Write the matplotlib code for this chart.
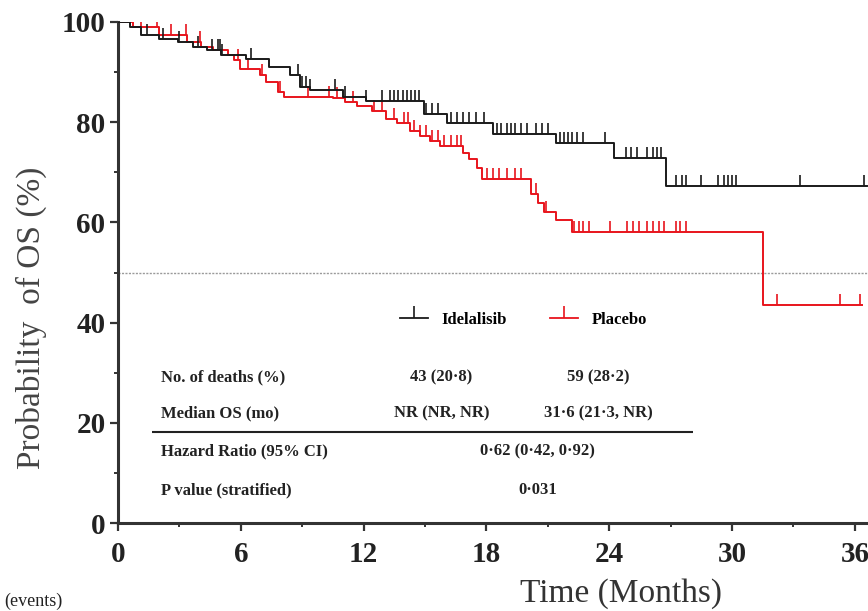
import numpy as np
import matplotlib
matplotlib.use('Agg')
import matplotlib.pyplot as plt
from matplotlib.lines import Line2D

plt.rcParams['font.family'] = ['Liberation Serif', 'DejaVu Serif']

# Kaplan-Meier curves: step times (months) and survival (%) after each step
ide_t = [0, 0.6, 1.1, 2.0, 2.95, 3.65, 4.35, 5.05, 6.25, 7.4, 8.4, 8.9, 9.4, 11.0, 12.1,
         14.95, 16.05, 18.3, 21.4, 24.25, 26.75, 36.6]
ide_s = [100, 99.0, 97.4, 96.6, 96.0, 95.0, 94.4, 93.5, 92.6, 91.1, 89.5, 87.1, 86.5, 85.1, 84.2,
         81.6, 79.8, 77.6, 75.8, 72.9, 67.3, 67.3]
pla_t = [0, 0.75, 2.0, 3.35, 4.05, 4.65, 5.35, 5.65, 5.95, 6.95, 7.25, 7.8, 8.1, 10.5, 11.1, 11.7,
         12.4, 13.1, 13.65, 14.25, 14.75, 15.25, 15.75, 16.85, 17.15, 17.55, 17.8, 20.2, 20.5, 20.8,
         21.4, 22.2, 31.5, 36.35]
pla_s = [100, 99.0, 97.4, 96.0, 95.0, 94.4, 93.4, 92.4, 90.7, 89.5, 88.1, 86.1, 85.1, 84.8, 84.0, 83.2,
         82.2, 80.6, 79.8, 78.2, 77.2, 76.2, 75.2, 73.9, 72.7, 70.9, 68.7, 65.7, 63.8, 62.0,
         60.4, 58.0, 43.6, 43.6]

# censored observations (months)
ide_cens = [1.4, 2.2, 3.0, 3.9, 4.6, 4.9, 5.0, 5.1, 6.5, 8.8, 9.0, 9.2, 9.4, 10.6, 11.1, 12.1,
            12.9, 13.3, 13.5, 13.7, 13.9, 14.1, 14.3, 14.5, 14.7, 15.05, 15.35, 15.65, 16.25, 16.55,
            16.85, 17.15, 17.5, 17.9, 18.5, 18.7, 19.0, 19.2, 19.4, 19.7, 20.0, 20.4, 20.7, 21.0,
            21.6, 21.8, 22.0, 22.2, 22.4, 22.7, 23.8, 24.8, 25.05, 25.35, 25.85, 26.15, 26.35, 26.55,
            27.25, 27.55, 27.75, 28.5, 29.3, 29.6, 29.8, 30.0, 30.2, 33.3, 36.45]
pla_cens = [1.1, 1.9, 2.6, 3.3, 4.0, 5.85, 6.35, 7.05, 7.9, 9.3, 10.3, 10.7, 11.5, 12.5, 12.9,
            13.5, 13.95, 14.15, 14.45, 14.75, 15.05, 15.35, 15.65, 15.95, 16.25, 16.55, 16.75,
            18.05, 18.3, 18.6, 19.0, 19.4, 19.7, 20.4, 20.9, 22.3, 22.5, 22.7, 23.0, 24.05, 24.85,
            25.15, 25.45, 25.85, 26.15, 26.45, 26.65, 27.25, 27.45, 27.75, 32.2, 35.25, 36.25]

# summary table
row_labels = ['No. of deaths (%)', 'Median OS (mo)', 'Hazard Ratio (95% CI)', 'P value (stratified)']
row_y = [29.1, 21.8, 14.2, 6.6]
ide_vals = ['43 (20·8)', 'NR (NR, NR)']
pla_vals = ['59 (28·2)', '31·6 (21·3, NR)']
hr_vals = ['0·62 (0·42, 0·92)', '0·031']

black = '#1a1a1a'
red = '#e8141c'
txt = '#222222'

fig = plt.figure(figsize=(8.68, 6.11), dpi=100)
ax = fig.add_axes([118 / 868, 88 / 611, 750 / 868, 501 / 611])


def surv_at(times, surv, t):
    idx = np.searchsorted(times, t, side='right') - 1
    return np.array(surv)[idx]


ax.step(ide_t, ide_s, where='post', color=black, lw=1.4, zorder=3)
ax.step(pla_t, pla_s, where='post', color=red, lw=1.4, zorder=2)
ax.plot(ide_cens, surv_at(ide_t, ide_s, ide_cens), ls='none', marker=2,
        ms=8, mew=1.2, color=black, zorder=3)
ax.plot(pla_cens, surv_at(pla_t, pla_s, pla_cens), ls='none', marker=2,
        ms=8, mew=1.2, color=red, zorder=2)

ax.axhline(50, color='#9a9a9a', lw=1, ls=(0, (1.5, 1)), zorder=1)

ax.set_xlim(0, 36.64)
ax.set_ylim(0, 100)
ax.set_xticks(np.arange(0, 37, 6))
ax.set_xticks(np.arange(3, 37, 6), minor=True)
ax.set_yticks(np.arange(0, 101, 20))
ax.set_yticks(np.arange(10, 100, 20), minor=True)
for lab in ax.get_xticklabels() + ax.get_yticklabels():
    lab.set_fontweight('bold')
ax.tick_params(axis='both', which='major', labelsize=21, length=6, width=1.6,
               color='#333333', labelcolor=txt, pad=3)
ax.tick_params(axis='both', which='minor', length=3, width=1.4, color='#333333')
ax.tick_params(axis='x', pad=7)
for side in ['top', 'right']:
    ax.spines[side].set_visible(False)
for side in ['left', 'bottom']:
    ax.spines[side].set_linewidth(2.2)
    ax.spines[side].set_color('#333333')

ax.set_xlabel('Time (Months)', fontsize=24, color='#333333')
ax.xaxis.set_label_coords(0.67, -0.11)
ax.set_ylabel('Probability  of OS (%)', fontsize=24, color='#444444')
ax.yaxis.set_label_coords(-0.095, 0.41)

# legend
handles = [Line2D([], [], color=black, lw=1.3, marker=2, ms=9, mew=1.2),
           Line2D([], [], color=red, lw=1.3, marker=2, ms=9, mew=1.2)]
ax.legend(handles, ['Idelalisib', 'Placebo'], loc='center', bbox_to_anchor=(19.8, 40.5),
          bbox_transform=ax.transData, ncol=2, frameon=False, numpoints=1,
          handlelength=1.7, handletextpad=0.8, columnspacing=2.6,
          prop={'weight': 'bold', 'size': 12})

# table
for lab, yy in zip(row_labels, row_y):
    ax.text(2.1, yy, lab, fontsize=12, fontweight='bold', color=txt, va='center')
for val, yy in zip(ide_vals, row_y[:2]):
    ax.text(15.8, yy, val, fontsize=12, fontweight='bold', color=txt, va='center', ha='center')
for val, yy in zip(pla_vals, row_y[:2]):
    ax.text(23.45, yy, val, fontsize=12, fontweight='bold', color=txt, va='center', ha='center')
for val, yy in zip(hr_vals, row_y[2:]):
    ax.text(20.5, yy, val, fontsize=12, fontweight='bold', color=txt, va='center', ha='center')
ax.hlines(18.2, 1.66, 28.1, color=txt, lw=1.5)

fig.text(0.005, 0.002, '(events)', fontsize=13, color=txt, va='bottom')

fig.savefig('out.png', dpi=100)
